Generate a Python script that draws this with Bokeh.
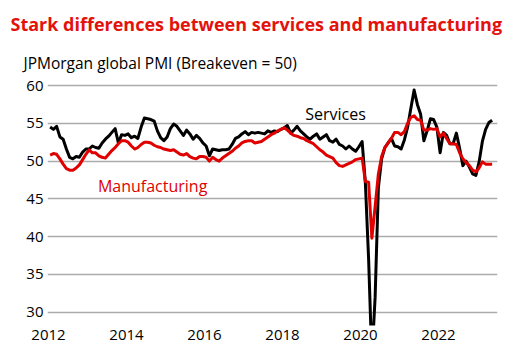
from bokeh.plotting import figure
from bokeh.models import Title, Label, FixedTicker, Range1d
from bokeh.embed import file_html
from bokeh.resources import INLINE

# Monthly JPMorgan global PMI, Jan 2012 - May 2023
start_year = 2012
services = [
    54.5, 54.2, 54.6, 53.2, 52.9, 51.6, 50.5, 50.3, 50.6, 50.5, 51.2, 51.6,  # 2012
    51.6, 52.0, 51.8, 51.7, 52.4, 52.9, 53.3, 53.8, 54.3, 52.4, 53.5, 53.4,  # 2013
    53.6, 53.1, 53.3, 53.0, 54.5, 55.7, 55.6, 55.5, 55.3, 54.0, 53.1, 52.7,  # 2014
    53.2, 54.3, 54.9, 54.6, 54.0, 53.4, 54.1, 53.6, 52.9, 53.4, 53.0, 52.4,  # 2015
    52.0, 50.7, 51.6, 51.5, 51.4, 51.5, 51.5, 51.6, 52.2, 53.0, 53.2, 53.6,  # 2016
    53.9, 53.5, 53.8, 53.7, 53.8, 53.7, 53.6, 54.0, 53.8, 54.0, 53.9, 54.2,  # 2017
    54.4, 54.7, 53.7, 54.1, 54.6, 54.0, 53.6, 53.2, 52.9, 53.3, 53.6, 52.9,  # 2018
    53.2, 53.5, 52.7, 52.5, 52.9, 52.2, 52.0, 51.6, 52.0, 51.6, 51.3, 51.9,  # 2019
    52.6, 47.1, 37.0, 23.7, 32.0, 46.5, 50.3, 51.8, 52.4, 53.0, 52.0, 51.9,  # 2020
    51.6, 52.8, 54.5, 57.0, 59.4, 57.5, 56.2, 52.7, 54.0, 55.6, 55.5, 54.5,  # 2021
    51.1, 53.8, 53.4, 52.3, 52.3, 53.7, 51.7, 49.4, 50.0, 49.2, 48.3, 48.1,  # 2022
    49.9, 52.6, 54.2, 55.1, 55.4,                                            # 2023
]
manufacturing = [
    50.8, 51.0, 50.9, 50.3, 49.6, 49.0, 48.8, 48.8, 49.1, 49.5, 50.2, 50.9,  # 2012
    51.5, 51.1, 51.1, 50.7, 50.5, 50.4, 50.9, 51.4, 51.8, 52.3, 52.7, 52.7,  # 2013
    52.5, 52.0, 51.6, 51.8, 52.2, 52.5, 52.5, 52.4, 52.1, 51.9, 51.8, 51.6,  # 2014
    51.5, 51.4, 51.5, 51.2, 50.9, 50.8, 51.0, 50.6, 50.4, 50.3, 50.6, 50.6,  # 2015
    50.5, 50.0, 50.5, 50.2, 50.0, 50.4, 50.7, 51.0, 51.3, 51.7, 52.0, 52.4,  # 2016
    52.6, 52.7, 52.7, 52.4, 52.5, 52.6, 52.9, 53.2, 53.5, 53.7, 54.0, 54.2,  # 2017
    54.4, 54.1, 53.7, 53.4, 53.3, 53.1, 53.0, 52.7, 52.5, 52.3, 51.9, 51.5,  # 2018
    51.2, 50.8, 50.6, 50.4, 49.8, 49.4, 49.3, 49.5, 49.7, 49.9, 50.2, 50.3,  # 2019
    50.4, 47.3, 47.2, 39.8, 44.0, 48.3, 50.6, 51.8, 52.4, 53.0, 53.8, 53.8,  # 2020
    53.5, 53.9, 55.0, 55.8, 56.0, 55.5, 55.4, 54.1, 54.1, 54.3, 54.2, 54.3,  # 2021
    53.2, 53.7, 53.0, 52.3, 52.3, 52.2, 51.1, 50.3, 49.8, 49.4, 48.8, 48.6,  # 2022
    49.1, 49.9, 49.6, 49.6, 49.6,                                            # 2023
]
dates = [start_year + (i + 0.5) / 12 for i in range(len(services))]

y_ticks = [30, 35, 40, 45, 50, 55, 60]
x_ticks = [2012, 2014, 2016, 2018, 2020, 2022]
x_tick_labels = ["2012", "2014", "2016", "2018", "2020", "2022"]

title_text = "Stark differences between services and manufacturing"
subtitle_text = "JPMorgan global PMI (Breakeven = 50)"

RED = "#E3120B"
LINE_RED = "#E00000"
FONT = "Open Sans"

p = figure(width=513, height=363, output_backend="svg", toolbar_location=None,
           x_range=Range1d(2011.974, 2023.513), y_range=Range1d(28.25, 60.93),
           min_border_left=47, min_border_right=16, min_border_bottom=38,
           min_border_top=0)
p.outline_line_color = None
p.background_fill_color = "white"
p.border_fill_color = "white"

p.line(dates, services, line_color="black", line_width=3, line_join="round")
p.line(dates, manufacturing, line_color=LINE_RED, line_width=3, line_join="round")

p.xgrid.grid_line_color = None
p.ygrid.grid_line_color = "#ababab"
p.ygrid.grid_line_width = 1.5
p.ygrid.ticker = FixedTicker(ticks=y_ticks)

p.yaxis.ticker = FixedTicker(ticks=y_ticks)
p.xaxis.ticker = FixedTicker(ticks=x_ticks)
p.xaxis.major_label_overrides = {t: l for t, l in zip(x_ticks, x_tick_labels)}
for ax in (p.xaxis, p.yaxis):
    ax.axis_line_color = None
    ax.major_tick_line_color = None
    ax.minor_tick_line_color = None
    ax.major_tick_out = 0
    ax.major_tick_in = 0
    ax.minor_tick_out = 0
    ax.major_label_text_font = FONT
    ax.major_label_text_font_size = "15px"
    ax.major_label_text_color = "black"
p.yaxis.major_label_standoff = 4
p.xaxis.major_label_standoff = 4

p.add_layout(Title(text=subtitle_text, align="left", offset=-24,
                   text_font=FONT, text_font_size="15.5px", text_font_style="normal",
                   text_color="black", standoff=10), "above")
p.add_layout(Title(text=title_text, align="left", offset=-37,
                   text_font=FONT, text_font_size="18px", text_font_style="bold",
                   text_color=RED, standoff=18), "above")

p.add_layout(Label(x=2019.36, y=56.26, text="Services", text_align="center",
                   text_baseline="middle", text_font=FONT, text_font_size="16px",
                   text_color="black"))
p.add_layout(Label(x=2014.67, y=46.73, text="Manufacturing", text_align="center",
                   text_baseline="middle", text_font=FONT, text_font_size="16px",
                   text_color=LINE_RED))

open("out.html", "w").write(file_html(p, INLINE))
